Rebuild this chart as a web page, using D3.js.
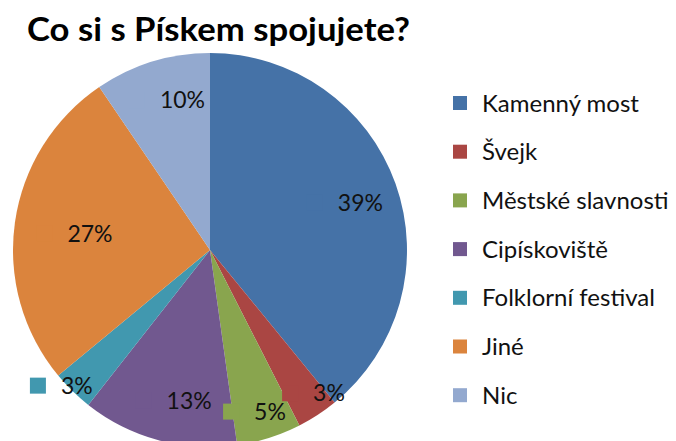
<!DOCTYPE html>
<meta charset="utf-8">
<head>
  <meta charset="utf-8">
  <title>Co si s Pískem spojujete?</title>
  <style>
  body { margin: 0; background: #fff; }
  svg { display: block; }
  .title { font: bold 33px Lato, sans-serif; fill: #000; }
  .pct { font: 23px Lato, sans-serif; fill: #111; }
  .legend text { font: 24px Lato, sans-serif; fill: #111; }
  </style>
</head>
<body>
<div id="chart"></div>
<script src="https://d3js.org/d3.v7.min.js"></script>
<script>

// categories and shares (%)
var categories = ["Kamenný most", "Švejk", "Městské slavnosti", "Cipískoviště",
                  "Folklorní festival", "Jiné", "Nic"];
var values = [39.1, 3.4, 5.3, 12.8, 3.4, 26.5, 9.5];
var colors = ["#4572A7", "#AA4643", "#89A54E", "#71588F", "#4198AF", "#DB843D", "#93A9CF"];

// label placement (Excel "best fit"): shift of angle in degrees and radius fraction
var labelShift = [2.2, -6.6, -2.9, -7.2, 0.2, -0.2, 6.7];
var labelRadius = [0.8, 0.945, 0.875, 0.77, 0.965, 0.615, 0.774];

var width = 676, height = 441;
var cx = 210, cy = 250, r = 197;

var svg = d3.select("#chart")
  .append("svg")
    .attr("width", width)
    .attr("height", height);

svg.append("text")
    .attr("class", "title")
    .attr("x", 27)
    .attr("y", 41)
    .attr("textLength", 383)
    .attr("lengthAdjust", "spacingAndGlyphs")
    .text("Co si s Pískem spojujete?");

var data = categories.map(function(c, i) {
  return {name: c, value: values[i], color: colors[i], shift: labelShift[i], rad: labelRadius[i]};
});

var pie = d3.pie()
  .sort(null)
  .value(function(d) { return d.value; });

var arc = d3.arc()
  .innerRadius(0)
  .outerRadius(r);

var g = svg.append("g")
    .attr("transform", "translate(" + cx + "," + cy + ")");

var arcs = pie(data);

g.selectAll("path")
  .data(arcs)
  .enter()
  .append("path")
    .attr("d", arc)
    .style("fill", function(d) { return d.data.color; });

// data labels with legend key
var labels = g.selectAll(".lab")
  .data(arcs)
  .enter()
  .append("g")
    .attr("class", "lab")
    .attr("transform", function(d) {
      var a = (d.startAngle + d.endAngle) / 2 + d.data.shift * Math.PI / 180;
      var rr = r * d.data.rad;
      return "translate(" + (Math.sin(a) * rr) + "," + (-Math.cos(a) * rr) + ")";
    });

labels.append("text")
    .attr("class", "pct")
    .attr("text-anchor", "middle")
    .attr("dy", "0.36em")
    .text(function(d) { return Math.round(d.data.value) + "%"; });

labels.each(function(d) {
  var w = d3.select(this).select("text").node().getComputedTextLength();
  d3.select(this).insert("rect", "text")
    .attr("x", -w / 2 - 31)
    .attr("y", -8)
    .attr("width", 16)
    .attr("height", 16)
    .style("fill", d.data.color);
});

// legend
var legend = svg.append("g")
    .attr("class", "legend")
    .selectAll("g")
    .data(data)
    .enter()
    .append("g")
      .attr("transform", function(d, i) { return "translate(453," + (103 + i * 48.7) + ")"; });

legend.append("rect")
    .attr("x", 0)
    .attr("y", -7)
    .attr("width", 14)
    .attr("height", 14)
    .style("fill", function(d) { return d.color; });

legend.append("text")
    .attr("x", 29)
    .attr("dy", "0.36em")
    .text(function(d) { return d.name; });

</script>
</body>
